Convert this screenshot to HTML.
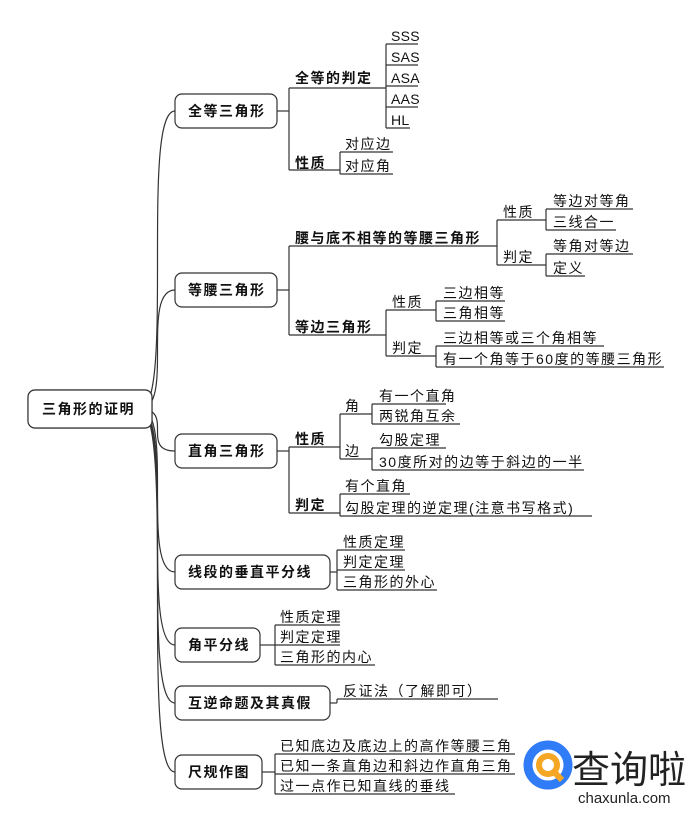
<!DOCTYPE html>
<html><head><meta charset="utf-8"><style>
body{margin:0;background:#fff;width:692px;height:821px;overflow:hidden}
svg{display:block}
text{font-family:"Liberation Sans","Noto Sans CJK SC",sans-serif;font-size:14px;fill:#111;letter-spacing:1.5px}
.b{font-weight:bold}
.l{letter-spacing:0.3px}
line,path,rect{stroke:#333;stroke-width:1.2;fill:none}
</style></head><body>
<svg width="692" height="821" viewBox="0 0 692 821">
<!-- root -->
<rect x="28" y="390" width="124" height="38" rx="7"/>
<text x="42" y="414" class="b">三角形的证明</text>
<!-- root curves -->
<path d="M140 409 C175 409 140 111 175 111"/>
<path d="M140 409 C175 409 140 290 175 290"/>
<path d="M140 409 C175 409 140 451 175 451"/>
<path d="M140 409 C175 409 140 572 175 572"/>
<path d="M140 409 C175 409 140 645 175 645"/>
<path d="M140 409 C175 409 140 703 175 703"/>
<path d="M140 409 C175 409 140 772 175 772"/>
<rect x="28" y="390" width="124" height="38" rx="7" style="fill:#fff"/>
<text x="42" y="414" class="b">三角形的证明</text>
<!-- level1 boxes -->
<rect x="175" y="94" width="102" height="34" rx="7"/><text x="188" y="116" class="b">全等三角形</text>
<rect x="175" y="273" width="102" height="34" rx="7"/><text x="188" y="295" class="b">等腰三角形</text>
<rect x="175" y="434" width="102" height="34" rx="7"/><text x="188" y="456" class="b">直角三角形</text>
<rect x="175" y="555" width="155" height="34" rx="7"/><text x="188" y="577" class="b">线段的垂直平分线</text>
<rect x="175" y="628" width="85" height="34" rx="7"/><text x="188" y="650" class="b">角平分线</text>
<rect x="175" y="686" width="155" height="34" rx="7"/><text x="188" y="708" class="b">互逆命题及其真假</text>
<rect x="175" y="755" width="87" height="34" rx="7"/><text x="188" y="777" class="b">尺规作图</text>

<!-- group1 -->
<line x1="277" y1="111" x2="289" y2="111"/><line x1="289" y1="88" x2="289" y2="170"/>
<line x1="289" y1="88" x2="386" y2="88"/><text x="295" y="83" class="b">全等的判定</text>
<line x1="289" y1="170" x2="340" y2="170"/><text x="295" y="168" class="b">性质</text>
<line x1="386" y1="44" x2="386" y2="128"/>
<text x="391" y="41" class="l">SSS</text><line x1="386" y1="44" x2="418" y2="44"/>
<text x="391" y="62" class="l">SAS</text><line x1="386" y1="65" x2="418" y2="65"/>
<text x="391" y="83" class="l">ASA</text><line x1="386" y1="86" x2="418" y2="86"/>
<text x="391" y="104" class="l">AAS</text><line x1="386" y1="107" x2="418" y2="107"/>
<text x="391" y="125" class="l">HL</text><line x1="386" y1="128" x2="410" y2="128"/>
<line x1="340" y1="152" x2="340" y2="174"/>
<text x="345" y="149">对应边</text><line x1="340" y1="152" x2="393" y2="152"/>
<text x="345" y="171">对应角</text><line x1="340" y1="174" x2="393" y2="174"/>

<!-- group2 -->
<line x1="277" y1="290" x2="289" y2="290"/><line x1="289" y1="246" x2="289" y2="335"/>
<text x="295" y="243" class="b">腰与底不相等的等腰三角形</text><line x1="289" y1="246" x2="497" y2="246"/>
<line x1="497" y1="220" x2="497" y2="265"/>
<text x="503" y="217">性质</text><line x1="497" y1="220" x2="546" y2="220"/>
<text x="503" y="262">判定</text><line x1="497" y1="265" x2="546" y2="265"/>
<line x1="546" y1="209" x2="546" y2="230"/>
<text x="553" y="206">等边对等角</text><line x1="546" y1="209" x2="633" y2="209"/>
<text x="553" y="227">三线合一</text><line x1="546" y1="230" x2="616" y2="230"/>
<line x1="546" y1="254" x2="546" y2="276"/>
<text x="553" y="251">等角对等边</text><line x1="546" y1="254" x2="633" y2="254"/>
<text x="553" y="273">定义</text><line x1="546" y1="276" x2="585" y2="276"/>
<text x="295" y="332" class="b">等边三角形</text><line x1="289" y1="335" x2="386" y2="335"/>
<line x1="386" y1="310" x2="386" y2="356"/>
<text x="392" y="307">性质</text><line x1="386" y1="310" x2="436" y2="310"/>
<text x="392" y="353">判定</text><line x1="386" y1="356" x2="436" y2="356"/>
<line x1="436" y1="301" x2="436" y2="321"/>
<text x="443" y="298">三边相等</text><line x1="436" y1="301" x2="505" y2="301"/>
<text x="443" y="318">三角相等</text><line x1="436" y1="321" x2="505" y2="321"/>
<line x1="436" y1="346" x2="436" y2="367"/>
<text x="443" y="343">三边相等或三个角相等</text><line x1="436" y1="346" x2="604" y2="346"/>
<text x="443" y="364">有一个角等于60度的等腰三角形</text><line x1="436" y1="367" x2="664" y2="367"/>

<!-- group3 -->
<line x1="277" y1="451" x2="289" y2="451"/><line x1="289" y1="447" x2="289" y2="513"/>
<text x="295" y="444" class="b">性质</text><line x1="289" y1="447" x2="340" y2="447"/>
<text x="295" y="510" class="b">判定</text><line x1="289" y1="513" x2="340" y2="513"/>
<line x1="340" y1="414" x2="340" y2="459"/>
<text x="345" y="411">角</text><line x1="340" y1="414" x2="372" y2="414"/>
<text x="345" y="456">边</text><line x1="340" y1="459" x2="372" y2="459"/>
<line x1="372" y1="404" x2="372" y2="424"/>
<text x="379" y="401">有一个直角</text><line x1="372" y1="404" x2="446" y2="404"/>
<text x="379" y="421">两锐角互余</text><line x1="372" y1="424" x2="460" y2="424"/>
<line x1="372" y1="448" x2="372" y2="470"/>
<text x="379" y="445">勾股定理</text><line x1="372" y1="448" x2="446" y2="448"/>
<text x="379" y="467">30度所对的边等于斜边的一半</text><line x1="372" y1="470" x2="584" y2="470"/>
<line x1="340" y1="494" x2="340" y2="516"/>
<text x="345" y="491">有个直角</text><line x1="340" y1="494" x2="410" y2="494"/>
<text x="345" y="513">勾股定理的逆定理(注意书写格式)</text><line x1="340" y1="516" x2="592" y2="516"/>

<!-- group4 -->
<line x1="330" y1="572" x2="337" y2="572"/><line x1="337" y1="550" x2="337" y2="590"/>
<text x="343" y="547">性质定理</text><line x1="337" y1="550" x2="405" y2="550"/>
<text x="343" y="567">判定定理</text><line x1="337" y1="570" x2="405" y2="570"/>
<text x="343" y="587">三角形的外心</text><line x1="337" y1="590" x2="437" y2="590"/>
<!-- group5 -->
<line x1="260" y1="645" x2="275" y2="645"/><line x1="275" y1="625" x2="275" y2="665"/>
<text x="280" y="622">性质定理</text><line x1="275" y1="625" x2="340" y2="625"/>
<text x="280" y="642">判定定理</text><line x1="275" y1="645" x2="340" y2="645"/>
<text x="280" y="662">三角形的内心</text><line x1="275" y1="665" x2="375" y2="665"/>
<!-- group6 -->
<line x1="330" y1="703" x2="337" y2="703"/><line x1="337" y1="699" x2="337" y2="703"/>
<text x="343" y="696">反证法（了解即可）</text><line x1="337" y1="699" x2="498" y2="699"/>
<!-- group7 -->
<line x1="262" y1="772" x2="275" y2="772"/><line x1="275" y1="754" x2="275" y2="794"/>
<text x="280" y="751">已知底边及底边上的高作等腰三角</text><line x1="275" y1="754" x2="515" y2="754"/>
<text x="280" y="771">已知一条直角边和斜边作直角三角</text><line x1="275" y1="774" x2="515" y2="774"/>
<text x="280" y="791">过一点作已知直线的垂线</text><line x1="275" y1="794" x2="455" y2="794"/>

<!-- logo -->
<rect x="516" y="735" width="176" height="86" style="fill:#fff;stroke:none"/>
<circle cx="548" cy="765" r="20" stroke="#2f7cf6" stroke-width="9" fill="none"/>
<circle cx="548" cy="765" r="9" stroke="#f5a623" stroke-width="6" fill="none"/>
<line x1="553" y1="771" x2="562" y2="780" style="stroke:#f5a623;stroke-width:6"/>
<text x="572" y="783" style="font-size:38px;letter-spacing:0;fill:#222">查询啦</text>
<text x="578" y="803" style="font-size:15px;letter-spacing:0;fill:#222">chaxunla.com</text>
</svg>
</body></html>
